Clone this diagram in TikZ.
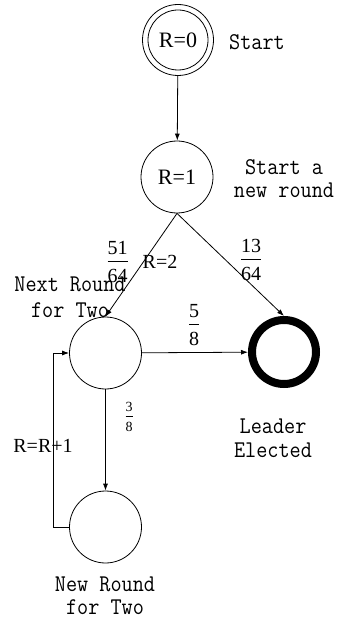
\documentclass[tikz,border=0pt]{standalone}
\usepackage{fontspec}
\setmainfont{Liberation Serif}
\setmonofont[FakeStretch=0.9]{Latin Modern Mono}
\usetikzlibrary{arrows.meta}
\newcommand{\myfrac}[2]{\setlength{\tabcolsep}{0pt}\renewcommand{\arraystretch}{1.05}\begin{tabular}{c}#1\\\hline\rule{0pt}{1.05em}#2\end{tabular}}
\begin{document}
\begin{tikzpicture}[x=1pt,y=-1pt,
  state/.style={circle, draw, line width=0.8pt, minimum size=72pt, inner sep=0pt, font=\fontsize{22}{24}\selectfont},
  final/.style={circle, draw, line width=8pt, minimum size=64pt, inner sep=0pt},
  note/.style={font=\ttfamily\fontsize{24}{25}\selectfont, align=center, inner sep=0pt},
  lab/.style={font=\fontsize{20}{22}\selectfont, inner sep=0pt},
  edge/.style={-{Latex[length=7pt,width=5pt]}, line width=0.8pt}]
\useasboundingbox (0,0) rectangle (343,620);
\node[state, minimum size=71pt] (r0) at (178,40) {R=0};
\draw[line width=0.8pt] (r0.center) circle (30);
\node[state] (r1) at (177,177) {R=1};
\node[state] (a) at (105.5,353) {};
\node[final] (lead) at (284,352) {};
\node[state] (b) at (105.5,527) {};

\node[note] (t0) at (257,42) {Start};
\node[note] (t1) at (284,179) {Start a\\[-2pt]new round};
\node[note] (t2) at (70,297) {Next Round\\[1pt]for Two};
\node[note] (t3) at (273,438) {Leader\\[-1pt]Elected};
\node[note] (t4) at (105,596) {New Round\\[-2pt]for Two};

\draw[edge] (r0) -- (r1);
\draw[edge] (r1.south) -- (a.north);
\draw[edge] (r1.south) -- (lead.north);
\draw[edge] (a) -- (lead);
\draw[edge] (a) -- (b);
\draw[edge] (b.west) -- ++(-16,0) |- (a.west);

\node[lab] (f1) at (117.5,264) {\myfrac{51}{64}};
\node[lab] (l2) at (160,262) {R=2};
\node[lab] (f2) at (251,262) {\myfrac{13}{64}};
\node[lab] (f3) at (194,327) {\myfrac{5}{8}};
\node[lab, font=\fontsize{14}{16}\selectfont] (f4) at (129,418) {\myfrac{3}{8}};
\node[lab] (l1) at (43,446) {R=R+1};
\end{tikzpicture}
\end{document}
